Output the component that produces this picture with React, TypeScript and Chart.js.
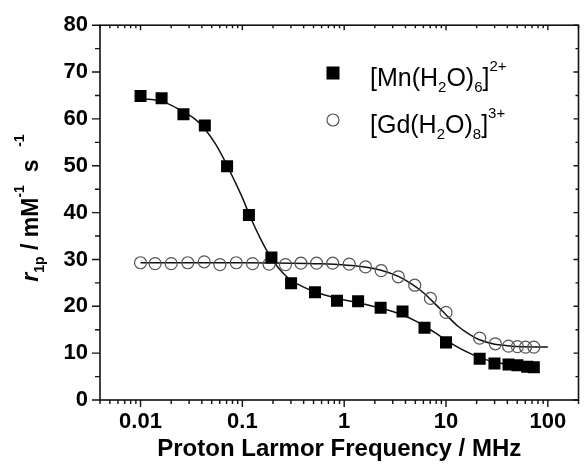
import React, { useEffect, useRef } from 'react';
import { Chart, registerables } from 'chart.js';

Chart.register(...registerables);

// ---- data ----
const mnFreq = [0.01, 0.0161, 0.0264, 0.0428, 0.0708, 0.116, 0.193, 0.301, 0.517, 0.85, 1.37, 2.28, 3.74, 6.15, 10.0, 21.4, 29.9, 41.1, 50.2, 62.7, 72.8];
const mnR1 = [64.9, 64.4, 61.0, 58.6, 49.9, 39.5, 30.4, 24.9, 23.0, 21.2, 21.1, 19.7, 18.9, 15.4, 12.3, 8.8, 7.8, 7.6, 7.4, 7.1, 7.0];

const gdFreq = [0.01, 0.0139, 0.02, 0.0291, 0.0422, 0.0602, 0.0871, 0.126, 0.183, 0.265, 0.376, 0.536, 0.771, 1.12, 1.62, 2.31, 3.4, 4.93, 7.03, 10.0, 21.4, 30.5, 41.1, 50.2, 60.4, 72.8];
const gdR1 = [29.3, 29.1, 29.1, 29.3, 29.5, 28.9, 29.3, 29.1, 29.0, 28.9, 29.2, 29.2, 29.2, 29.0, 28.4, 27.6, 26.3, 24.5, 21.7, 18.7, 13.2, 12.0, 11.5, 11.4, 11.3, 11.3];

const mnFitFreq = [0.01, 0.016, 0.026, 0.035, 0.043, 0.055, 0.07, 0.085, 0.1, 0.12, 0.15, 0.18, 0.2, 0.23, 0.27, 0.3, 0.4, 0.5, 0.7, 0.85, 1.4, 2.3, 3.0, 3.7, 5, 6, 8, 10, 13, 17, 21, 30, 40, 50, 73];
const mnFitR1 = [64.3, 63.8, 61.6, 59.8, 57.8, 54.5, 50.3, 46.5, 43.2, 39.0, 34.5, 31.3, 29.8, 28.0, 26.4, 25.6, 24.1, 23.2, 22.2, 21.7, 20.7, 19.6, 18.9, 18.2, 16.9, 15.9, 14.2, 12.8, 11.3, 10.0, 9.1, 8.1, 7.6, 7.3, 6.9];

const gdFitFreq = [0.01, 0.1, 0.3, 0.5, 0.8, 1.2, 1.6, 2.3, 3.4, 4.5, 6, 8, 10, 13, 17, 21, 30, 40, 50, 100];
const gdFitR1 = [29.3, 29.3, 29.2, 29.1, 29.0, 28.7, 28.4, 27.7, 26.4, 24.9, 22.9, 20.3, 18.2, 15.8, 14.0, 12.9, 11.9, 11.6, 11.4, 11.3];

const xTickValues = [0.01, 0.1, 1, 10, 100];
const xTickLabels = ['0.01', '0.1', '1', '10', '100'];
const xMinorValues = [0.004, 0.005, 0.006, 0.007, 0.008, 0.009, 0.02, 0.03, 0.04, 0.05, 0.06, 0.07, 0.08, 0.09, 0.2, 0.3, 0.4, 0.5, 0.6, 0.7, 0.8, 0.9, 2, 3, 4, 5, 6, 7, 8, 9, 20, 30, 40, 50, 60, 70, 80, 90, 200];
const yTickValues = [0, 10, 20, 30, 40, 50, 60, 70, 80];
const yMinorValues = [5, 15, 25, 35, 45, 55, 65, 75];

const xTitle = 'Proton Larmor Frequency / MHz';
// kinds: 0 normal, 1 subscript, 2 superscript, 3 italic
const mnLabel: [string, number][] = [['[Mn(H', 0], ['2', 1], ['O)', 0], ['6', 1], [']', 0], ['2+', 2]];
const gdLabel: [string, number][] = [['[Gd(H', 0], ['2', 1], ['O)', 0], ['8', 1], [']', 0], ['3+', 2]];
const yTitleParts: [string, number][] = [['r', 3], ['1p', 1], [' / mM', 0], ['-1', 2], ['  s  ', 0], ['-1', 2]];

const FONT = '"Liberation Sans", Arial, Helvetica, sans-serif';

function drawRich(
  ctx: CanvasRenderingContext2D,
  parts: [string, number][],
  x: number,
  y: number,
  size: number,
  bold: boolean,
  center: boolean,
  subDy: number,
  supDy: number,
  smallSize: number
) {
  const b = bold ? 'bold ' : '';
  const fontFor = (kind: number) => {
    if (kind === 1 || kind === 2) return `${b}${smallSize}px ${FONT}`;
    if (kind === 3) return `italic ${b}${size}px ${FONT}`;
    return `${b}${size}px ${FONT}`;
  };
  const dyFor = (kind: number) => (kind === 1 ? subDy : kind === 2 ? supDy : 0);
  let total = 0;
  for (const [t, k] of parts) {
    ctx.font = fontFor(k);
    total += ctx.measureText(t).width;
  }
  let cx = center ? x - total / 2 : x;
  ctx.textAlign = 'left';
  ctx.textBaseline = 'alphabetic';
  for (const [t, k] of parts) {
    ctx.font = fontFor(k);
    ctx.fillText(t, cx, y + dyFor(k));
    cx += ctx.measureText(t).width;
  }
}

const framePlugin = {
  id: 'frameTicks',
  afterDraw(chart: any) {
    const ctx = chart.ctx as CanvasRenderingContext2D;
    const { left, right, top, bottom } = chart.chartArea;
    const xs = chart.scales.x;
    const ys = chart.scales.y;
    ctx.save();
    ctx.strokeStyle = '#111';
    ctx.lineWidth = 1.6;
    ctx.strokeRect(left, top, right - left, bottom - top);
    ctx.lineWidth = 1.4;
    ctx.beginPath();
    const xt = (v: number, lenOut: number, lenIn: number) => {
      const px = xs.getPixelForValue(v);
      if (px < left - 0.5 || px > right + 0.5) return;
      ctx.moveTo(px, bottom);
      ctx.lineTo(px, bottom + lenOut);
      ctx.moveTo(px, top);
      ctx.lineTo(px, top + lenIn);
    };
    xTickValues.forEach((v) => xt(v, 7, 5));
    xMinorValues.forEach((v) => xt(v, 4, 3));
    const yt = (v: number, lenOut: number, lenIn: number) => {
      const py = ys.getPixelForValue(v);
      ctx.moveTo(left, py);
      ctx.lineTo(left - lenOut, py);
      ctx.moveTo(right, py);
      ctx.lineTo(right - lenIn, py);
    };
    yTickValues.forEach((v) => yt(v, 8, 5));
    yMinorValues.forEach((v) => yt(v, 5, 3));
    ctx.stroke();

    // y axis title
    ctx.fillStyle = '#000';
    ctx.save();
    ctx.translate(38, 208);
    ctx.rotate(-Math.PI / 2);
    drawRich(ctx, yTitleParts, 0, 0, 23, true, true, 6, -14, 14);
    ctx.restore();

    // legend
    ctx.fillStyle = '#000';
    ctx.fillRect(333 - 6.5, 73 - 6.5, 13, 13);
    ctx.beginPath();
    ctx.strokeStyle = '#555';
    ctx.lineWidth = 1.2;
    ctx.arc(333, 120, 6, 0, Math.PI * 2);
    ctx.stroke();
    ctx.fillStyle = '#000';
    drawRich(ctx, mnLabel, 370, 86, 25, false, false, 6, -15, 15);
    drawRich(ctx, gdLabel, 370, 133, 25, false, false, 6, -15, 15);
    ctx.restore();
  },
};

export default function App() {
  const ref = useRef<HTMLCanvasElement>(null);
  useEffect(() => {
    document.body.style.margin = '0';
    const canvas = ref.current!;
    const toPts = (xs: number[], ys: number[]) => xs.map((x, i) => ({ x, y: ys[i] }));
    const chart = new Chart(canvas, {
      type: 'scatter',
      data: {
        datasets: [
          {
            label: 'Mn',
            data: toPts(mnFreq, mnR1),
            pointStyle: 'rect',
            pointRadius: 8.5,
            pointBackgroundColor: '#000',
            pointBorderColor: '#000',
            pointBorderWidth: 0,
            showLine: false,
          },
          {
            label: 'Gd',
            data: toPts(gdFreq, gdR1),
            pointStyle: 'circle',
            pointRadius: 6,
            pointBackgroundColor: 'rgba(0,0,0,0)',
            pointBorderColor: '#555',
            pointBorderWidth: 1.2,
            showLine: false,
          },
          {
            label: 'Mn fit',
            data: toPts(mnFitFreq, mnFitR1),
            showLine: true,
            pointRadius: 0,
            borderColor: '#111',
            borderWidth: 1.5,
            cubicInterpolationMode: 'monotone',
          },
          {
            label: 'Gd fit',
            data: toPts(gdFitFreq, gdFitR1),
            showLine: true,
            pointRadius: 0,
            borderColor: '#111',
            borderWidth: 1.5,
            cubicInterpolationMode: 'monotone',
          },
        ],
      } as any,
      options: {
        responsive: false,
        animation: false,
        layout: { padding: { top: 23, right: 1, left: 0, bottom: 0 } },
        plugins: { legend: { display: false }, tooltip: { enabled: false } },
        scales: {
          x: {
            type: 'logarithmic',
            min: 0.004,
            max: 200,
            afterBuildTicks: (s: any) => {
              s.ticks = xTickValues.map((v) => ({ value: v }));
            },
            afterFit: (s: any) => {
              s.height = 64;
            },
            ticks: {
              callback: (v: any) => {
                const i = xTickValues.findIndex((t) => Math.abs(t - Number(v)) < 1e-9 * Math.max(1, t));
                return i >= 0 ? xTickLabels[i] : '';
              },
              autoSkip: false,
              maxRotation: 0,
              padding: 9,
              color: '#000',
              font: { family: FONT, size: 22, weight: 'bold' },
            },
            grid: { display: false, drawTicks: false },
            border: { display: false },
            title: {
              display: true,
              text: xTitle,
              color: '#000',
              font: { family: FONT, size: 24, weight: 'bold' },
              padding: { top: 0, bottom: 0 },
            },
          },
          y: {
            min: 0,
            max: 80,
            afterBuildTicks: (s: any) => {
              s.ticks = yTickValues.map((v) => ({ value: v }));
            },
            afterFit: (s: any) => {
              s.width = 100;
            },
            ticks: {
              padding: 12,
              color: '#000',
              font: { family: FONT, size: 22, weight: 'bold' },
            },
            grid: { display: false, drawTicks: false },
            border: { display: false },
          },
        },
      } as any,
      plugins: [framePlugin],
    });
    return () => chart.destroy();
  }, []);
  return <canvas ref={ref} width={587} height={464} style={{ display: 'block' }} />;
}
